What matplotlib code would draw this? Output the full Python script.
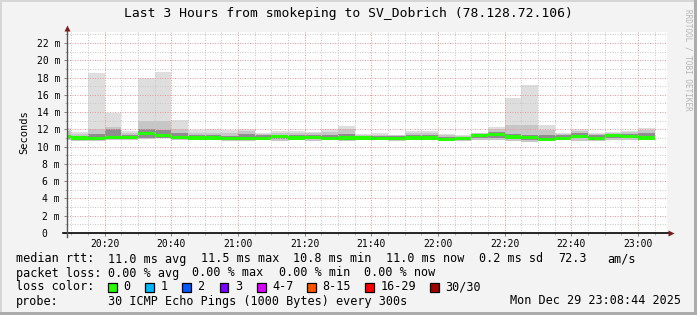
import matplotlib
matplotlib.use('Agg')
import matplotlib.pyplot as plt
import matplotlib.dates as mdates
from matplotlib.patches import Rectangle
import pandas as pd

W, H = 697, 315
MONO = 'DejaVu Sans Mono'

# 5 minute rrd steps (bin start), values in ms
bin_start = pd.date_range('2025-12-29 20:05', '2025-12-29 23:00', freq='5min')
median_ms = [11.15, 11.0, 10.95, 11.05, 11.1, 11.55, 11.3, 11.1, 11.0, 11.0, 10.95, 10.95,
             10.95, 11.15, 11.0, 11.1, 10.93, 11.0, 11.0, 10.93, 10.92, 11.0, 11.0, 10.86,
             10.92, 11.28, 11.45, 11.12, 11.06, 10.86, 10.9, 11.22, 10.9, 11.27, 11.13, 11.0]
smoke_max = [12.2, 11.7, 18.5, 13.9, 11.8, 18.0, 18.65, 13.1, 11.9, 12.0, 11.95, 12.0,
             11.6, 11.8, 11.8, 11.7, 12.0, 12.4, 11.45, 11.55, 11.35, 11.8, 11.8, 11.45,
             11.3, 11.6, 12.3, 15.65, 17.15, 12.5, 11.6, 12.0, 11.55, 11.7, 11.8, 12.2]
smoke_p90 = [11.8, 11.5, 12.0, 12.3, 11.6, 13.0, 13.0, 12.0, 11.6, 11.6, 11.6, 11.8,
             11.5, 11.6, 11.6, 11.6, 11.7, 12.0, 11.35, 11.4, 11.3, 11.6, 11.6, 11.3,
             11.2, 11.55, 12.0, 12.5, 12.5, 11.9, 11.5, 11.8, 11.45, 11.6, 11.7, 11.9]
smoke_p75 = [11.4, 11.25, 11.45, 12.0, 11.4, 12.1, 11.9, 11.6, 11.35, 11.35, 11.25, 11.5,
             11.4, 11.3, 11.3, 11.4, 11.3, 11.5, 11.2, 11.2, 11.2, 11.4, 11.35, 11.1,
             11.1, 11.45, 11.75, 11.5, 11.4, 11.3, 11.3, 11.55, 11.3, 11.5, 11.45, 11.6]
smoke_p25 = [10.9, 10.85, 10.75, 10.9, 10.9, 11.0, 11.05, 10.85, 10.9, 10.85, 10.75, 10.8,
             10.8, 10.9, 10.85, 10.85, 10.85, 10.85, 10.9, 10.85, 10.75, 10.9, 10.9, 10.8,
             10.75, 10.95, 11.0, 10.9, 10.8, 10.75, 10.85, 10.95, 10.8, 10.95, 10.95, 10.85]
smoke_min = [10.8, 10.65, 10.6, 10.8, 10.8, 10.85, 10.95, 10.75, 10.8, 10.75, 10.6, 10.7,
             10.75, 10.7, 10.75, 10.7, 10.8, 10.6, 10.8, 10.75, 10.7, 10.8, 10.8, 10.7,
             10.7, 10.8, 10.8, 10.7, 10.55, 10.7, 10.8, 10.7, 10.7, 10.8, 10.75, 10.75]

loss_labels = ['0', '1', '2', '3', '4-7', '8-15', '16-29', '30/30']
loss_colors = ['#26ff00', '#00b8ff', '#0059ff', '#7e00ff', '#dd00ff', '#ff5500', '#ff0000', '#a10000']

t_start = pd.Timestamp('2025-12-29 20:08:44')
t_end = pd.Timestamp('2025-12-29 23:08:44')

fig = plt.figure(figsize=(W / 100, H / 100), dpi=100)
fig.patch.set_facecolor('#f3f3f3')

# axes box in pixels: x 67..667, y 32..233
ax = fig.add_axes([67 / W, 1 - 233 / H, 600 / W, 201 / H])
ax.set_facecolor('white')

x = mdates.date2num(bin_start)
bw = 5 / 1440.0
ax.bar(x, [a - b for a, b in zip(smoke_max, smoke_min)], bottom=smoke_min, width=bw,
       align='edge', color='#dedede', lw=0, zorder=1)
ax.bar(x, [a - b for a, b in zip(smoke_p90, smoke_min)], bottom=smoke_min, width=bw,
       align='edge', color='#c6c6c6', lw=0, zorder=1.1)
ax.bar(x, [a - b for a, b in zip(smoke_p75, smoke_p25)], bottom=smoke_p25, width=bw,
       align='edge', color='#8e8e8e', lw=0, zorder=1.2)
# median band ~3px high, coloured by loss (all 0 here)
band = 0.36
ax.bar(x, [band] * len(x), bottom=[m - band / 2 for m in median_ms], width=bw,
       align='edge', color=loss_colors[0], lw=0, zorder=3)

ax.set_xlim(mdates.date2num(t_start), mdates.date2num(t_end))
ymax = 201 / 8.636
ax.set_ylim(0, ymax)

ax.xaxis.set_major_locator(mdates.MinuteLocator(byminute=[0, 20, 40]))
ax.xaxis.set_minor_locator(mdates.MinuteLocator(byminute=range(0, 60, 5)))
ax.xaxis.set_major_formatter(mdates.DateFormatter('%H:%M'))
yt = list(range(0, 23, 2))
ax.set_yticks(yt)
ax.set_yticklabels(['%d m' % v if v else '0  ' for v in yt])
ax.set_yticks(range(0, 24), minor=True)

ax.set_axisbelow(False)
ax.grid(which='minor', color='#c8c8c8', linestyle=(0, (1, 1.5)), lw=0.72, zorder=2)
ax.grid(which='major', color='#e79a9a', linestyle=(0, (1, 1.5)), lw=0.72, zorder=2.1)

for s in ax.spines.values():
    s.set_visible(False)
ax.tick_params(which='major', length=2.5, width=0.7, color='#808080', labelsize=7)
ax.tick_params(which='minor', length=1.5, width=0.7, color='#b0b0b0')
ax.tick_params(axis='x', which='major', pad=2)
ax.tick_params(axis='y', which='major', pad=2.5)
for lab in ax.get_xticklabels() + ax.get_yticklabels():
    lab.set_family(MONO)

# axis lines with arrows
ax.plot([-4 / 600, 1 + 3 / 600], [0, 0], color='black', lw=1.2, transform=ax.transAxes,
        clip_on=False, zorder=5)
ax.plot([0, 0], [-4 / 201, 1 + 1 / 201], color='#555555', lw=1, transform=ax.transAxes,
        clip_on=False, zorder=5)
ax.plot([1 + 4 / 600], [0], marker='>', ms=4.5, color='#7a1c1c', mec='none',
        transform=ax.transAxes, clip_on=False, zorder=6)
ax.plot([0], [1 + 4 / 201], marker='^', ms=4.5, color='#7a1c1c', mec='none',
        transform=ax.transAxes, clip_on=False, zorder=6)

ax.set_ylabel('Seconds', family=MONO, fontsize=7.5, labelpad=5)


def ftxt(px, py, s, **kw):
    kw.setdefault('family', MONO)
    kw.setdefault('fontsize', 8.5)
    kw.setdefault('va', 'center')
    kw.setdefault('ha', 'left')
    fig.text(px / W, 1 - py / H, s, **kw)


ftxt(W / 2, 13, 'Last 3 Hours from smokeping to SV_Dobrich (78.128.72.106)',
     ha='center', fontsize=9.4)
ftxt(688, 60, 'RRDTOOL / TOBI OETIKER', rotation=270, ha='center', fontsize=5.5,
     color='#b5b5b5')

row1 = [(16, 'median rtt:'), (108, '11.0 ms avg'), (201, '11.5 ms max'), (293, '10.8 ms min'),
        (386, '11.0 ms now'), (479, '0.2 ms sd'), (558, '72.3'), (607, 'am/s')]
row2 = [(16, 'packet loss:'), (108, '0.00 % avg'), (192, '0.00 % max'), (279, '0.00 % min'),
        (364, '0.00 % now')]
for px, s in row1:
    ftxt(px, 259, s)
for px, s in row2:
    ftxt(px, 273, s)

ftxt(16, 287, 'loss color:')
box_x = [108, 145, 182, 220, 257, 307, 365, 430]
for bx, lab, col in zip(box_x, loss_labels, loss_colors):
    fig.patches.append(Rectangle((bx / W, 1 - 291.5 / H), 8.5 / W, 8.5 / H,
                                 transform=fig.transFigure, facecolor=col,
                                 edgecolor='black', lw=0.9))
    ftxt(bx + 15.5, 287, lab)

ftxt(16, 301, 'probe:')
ftxt(108, 301, '30 ICMP Echo Pings (1000 Bytes) every 300s')
ftxt(681, 301, 'Mon Dec 29 23:08:44 2025', ha='right')

# 3d-ish frame: light top/left, darker bottom/right
fig.patches.append(Rectangle((0, 1 - 2 / H), 1, 2 / H, transform=fig.transFigure,
                             facecolor='#d6d6d6', lw=0))
fig.patches.append(Rectangle((0, 0), 2 / W, 1, transform=fig.transFigure,
                             facecolor='#d6d6d6', lw=0))
fig.patches.append(Rectangle((0, 0), 1, 3 / H, transform=fig.transFigure,
                             facecolor='#acacac', lw=0))
fig.patches.append(Rectangle((1 - 3 / W, 0), 3 / W, 1, transform=fig.transFigure,
                             facecolor='#acacac', lw=0))

fig.savefig('out.png', dpi=100, facecolor=fig.get_facecolor())
